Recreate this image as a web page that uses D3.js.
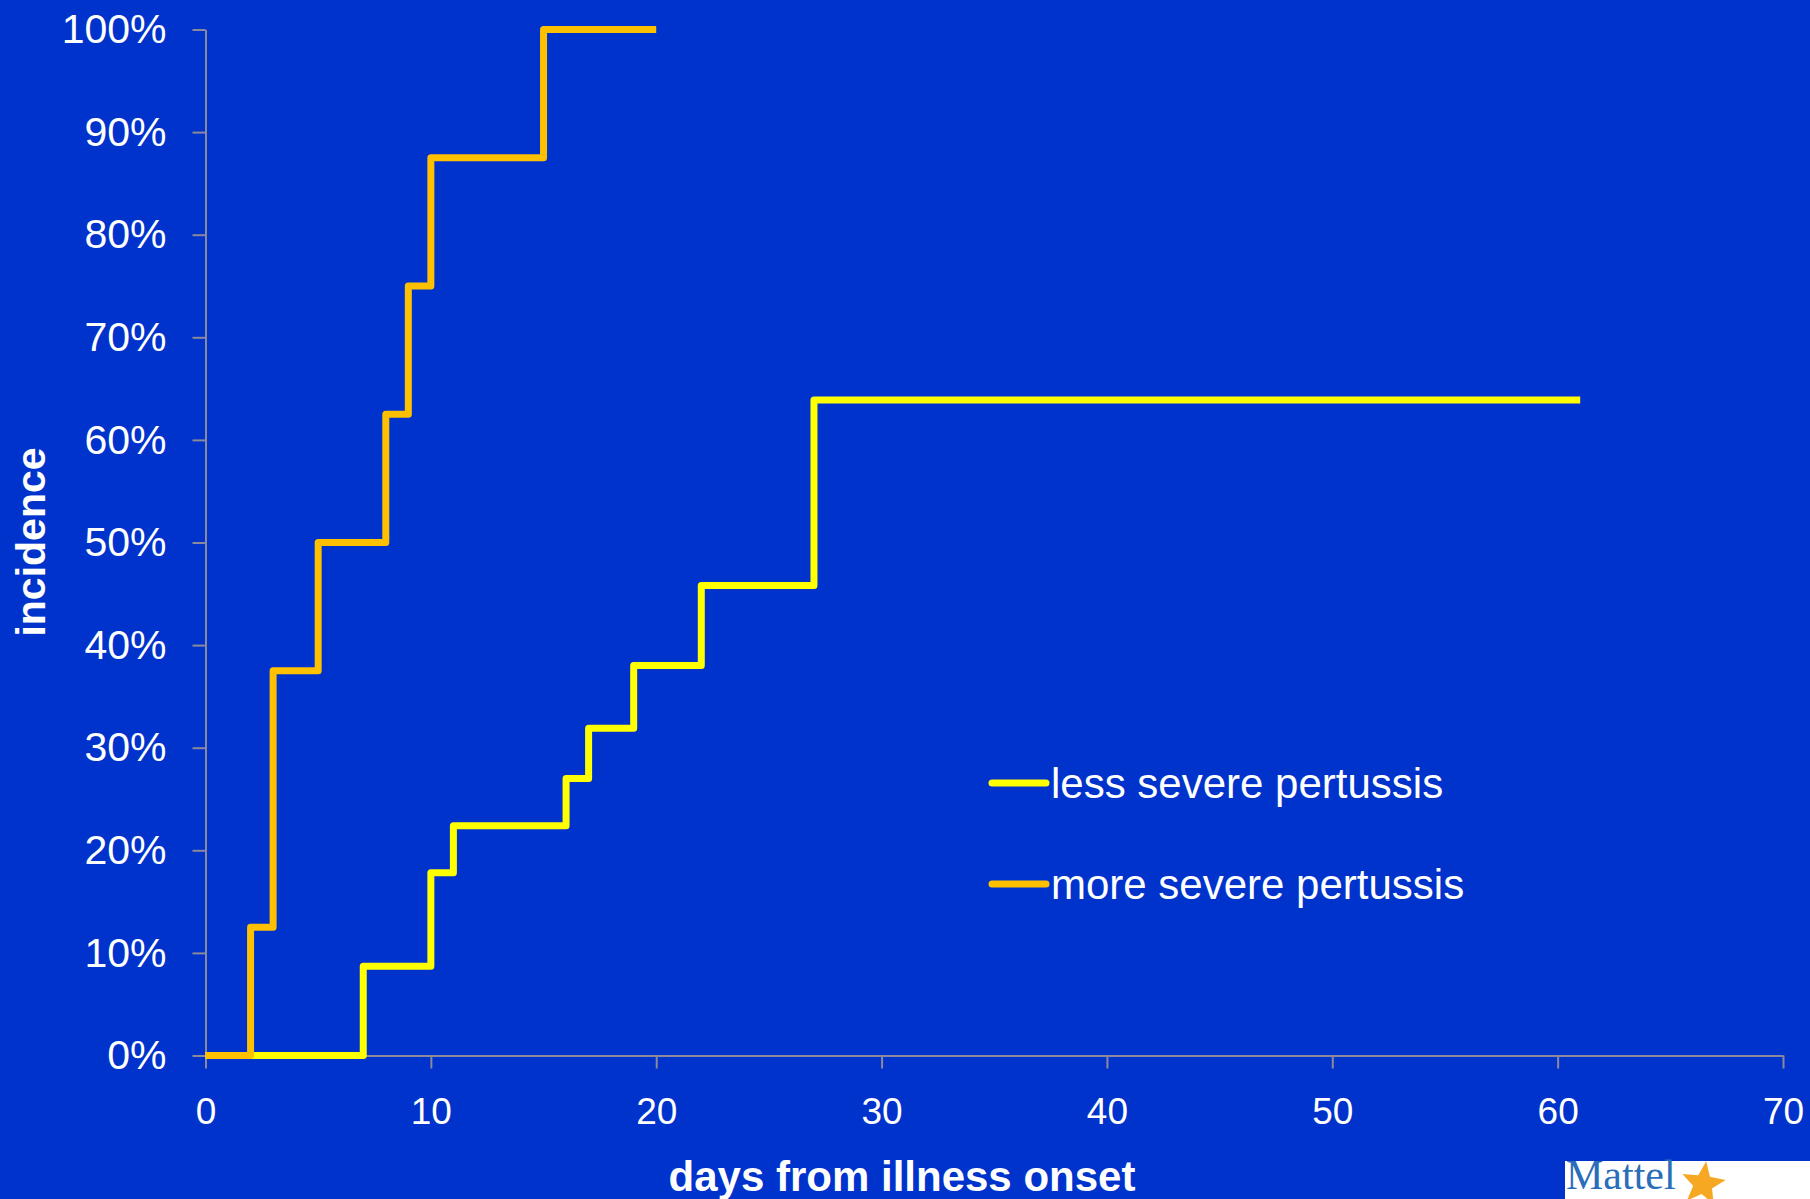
<!DOCTYPE html>
<html>
<head>
<meta charset="utf-8">
<script src="https://cdn.jsdelivr.net/npm/d3@7"></script>
<style>
  html, body { margin: 0; padding: 0; background: #0033cc; }
  svg { display: block; }
  .axis path, .axis line { stroke: #8a8a9a; stroke-width: 2px; }
  .axis text { fill: #fff; font-family: "Liberation Sans", Arial, sans-serif; }
</style>
</head>
<body>
<script>
// data
var lessDays = [0, 7, 10, 11, 16, 17, 19, 22, 27, 61];
var lessInc  = [0, 8.7, 17.8, 22.4, 27.0, 31.9, 38.0, 45.8, 63.9, 63.9];
var moreDays = [0, 2, 3, 5, 8, 9, 10, 15, 20];
var moreInc  = [0, 12.5, 37.5, 50, 62.5, 75, 87.5, 100, 100];
var seriesNames = ["less severe pertussis", "more severe pertussis"];
var xTicks = [0, 10, 20, 30, 40, 50, 60, 70];
var yTicks = [0, 10, 20, 30, 40, 50, 60, 70, 80, 90, 100];

var W = 1810, H = 1199;
var colors = ["#ffff00", "#ffc000"];

var svg = d3.select("body").append("svg")
    .attr("width", W)
    .attr("height", H);

svg.append("rect").attr("width", W).attr("height", H).attr("fill", "#0033cc");

var xScale = d3.scaleLinear().domain([0, 70]).range([205.5, 1783]);
var yScale = d3.scaleLinear().domain([0, 100]).range([1055.5, 29.5]);

//Y axis
var yAxis = d3.axisLeft(yScale)
    .tickValues(yTicks)
    .tickSize(13).tickSizeOuter(0)
    .tickPadding(26)
    .tickFormat(function(d) { return d + "%"; });

svg.append("g")
    .attr("class", "y axis")
    .attr("transform", "translate(" + xScale(0) + ",0)")
    .call(yAxis)
    .selectAll("text").attr("font-size", "41px");

//X axis
var xAxis = d3.axisBottom(xScale)
    .tickValues(xTicks)
    .tickSize(13).tickSizeOuter(0)
    .tickPadding(29);

svg.append("g")
    .attr("class", "x axis")
    .attr("transform", "translate(0," + yScale(0) + ")")
    .call(xAxis)
    .selectAll("text").attr("font-size", "37px");

//Step lines
var line = d3.line()
    .curve(d3.curveStepAfter)
    .x(function(d) { return xScale(d[0]); })
    .y(function(d) { return yScale(d[1]); });

var lessData = d3.zip(lessDays, lessInc);
var moreData = d3.zip(moreDays, moreInc);

[lessData, moreData].forEach(function(data, i) {
  svg.append("path")
      .datum(data)
      .attr("d", line)
      .attr("fill", "none")
      .attr("stroke", colors[i])
      .attr("stroke-width", 7)
      .attr("stroke-linejoin", "round")
      .attr("stroke-linecap", "butt");
});

//Axis titles
svg.append("text")
    .attr("transform", "translate(45,542) rotate(-90)")
    .attr("text-anchor", "middle")
    .attr("fill", "#fff")
    .attr("font-family", "Liberation Sans, Arial, sans-serif")
    .attr("font-weight", "bold")
    .attr("font-size", "41px")
    .text("incidence");

svg.append("text")
    .attr("x", 902)
    .attr("y", 1191)
    .attr("text-anchor", "middle")
    .attr("fill", "#fff")
    .attr("font-family", "Liberation Sans, Arial, sans-serif")
    .attr("font-weight", "bold")
    .attr("font-size", "42px")
    .text("days from illness onset");

//Legend
var legendY = [783, 884];
var legend = svg.selectAll(".legend")
    .data(seriesNames)
    .enter().append("g")
    .attr("class", "legend")
    .attr("transform", function(d, i) { return "translate(0," + legendY[i] + ")"; });

legend.append("line")
    .attr("x1", 992).attr("x2", 1046)
    .attr("stroke", function(d, i) { return colors[i]; })
    .attr("stroke-width", 7)
    .attr("stroke-linecap", "round");

legend.append("text")
    .attr("x", 1051)
    .attr("y", 15)
    .attr("fill", "#fff")
    .attr("font-family", "Liberation Sans, Arial, sans-serif")
    .attr("font-size", "42px")
    .text(function(d) { return d; });

//Logo corner
svg.append("rect")
    .attr("x", 1565).attr("y", 1161)
    .attr("width", 245).attr("height", 38)
    .attr("fill", "#fff");

svg.append("text")
    .attr("x", 1566)
    .attr("y", 1189)
    .attr("fill", "#2a6db8")
    .attr("font-family", "Liberation Serif, Times New Roman, serif")
    .attr("font-size", "42px")
    .text("Mattel");

var starPts = d3.range(10).map(function(k) {
  var r = k % 2 === 0 ? 23 : 10;
  var a = -Math.PI / 2 + k * Math.PI / 5;
  return [1703 + r * Math.cos(a), 1184 + r * Math.sin(a)];
});
svg.append("path")
    .attr("d", "M" + starPts.join("L") + "Z")
    .attr("fill", "#f7a823")
    .attr("transform", "rotate(8,1703,1184)");
</script>
</body>
</html>
